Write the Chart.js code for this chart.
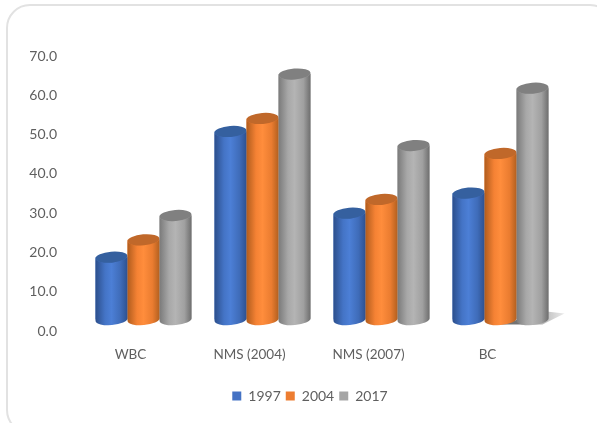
<!DOCTYPE html>
<html>
<head>
<meta charset="utf-8">
<style>
  html, body { margin: 0; padding: 0; background: #fff; overflow: hidden; }
  #frame { position: absolute; left: 6px; top: 4px; width: 608px; height: 430px; border: 2px solid #e2e2e2; border-radius: 24px; box-sizing: border-box; }
  #chart { position: absolute; left: 0; top: 0; }
</style>
<script src="https://cdn.jsdelivr.net/npm/chart.js@4"></script>
</head>
<body>
<div id="frame"></div>
<canvas id="chart" width="597" height="423"></canvas>
<script>
const categories = ["WBC", "NMS (2004)", "NMS (2007)", "BC"];
const seriesNames = ["1997", "2004", "2017"];
const values1997 = [18.8, 50.8, 30.0, 35.1];
const values2004 = [23.2, 54.1, 33.5, 45.2];
const values2017 = [29.4, 65.4, 47.2, 61.8];

const flatColors = ["#4472c4", "#ed7d31", "#a5a5a5"];
const capColors = ["#35609f", "#c0682a", "#808080"];
const sideStops = [
  ["#2c4f8c", "#4474c6", "#4c7fd6", "#3f6cb9", "#2d5190"],
  ["#b05c1d", "#f58234", "#ff8d3c", "#ea7c30", "#b3601f"],
  ["#7a7a7a", "#a8a8a8", "#b4b4b4", "#a0a0a0", "#6e6e6e"]
];

// bars stand on this level, the picture has the floor a bit above the 0.0 label
const floorValue = 2.9;

// turns the flat bars into tilted cylinders
const cylinders = {
  id: "cylinders",
  // legend sits right of the canvas centre in the picture
  afterLayout(chart) {
    chart.legend.left += 30;
    chart.legend.right += 30;
  },
  afterDatasetsDraw(chart) {
    const ctx = chart.ctx;
    const tilt = -0.08;

    // shadow behind the last bar only
    const lastBar = chart.getDatasetMeta(2).data[3];
    const shadow = ctx.createLinearGradient(lastBar.x - 10, 0, lastBar.x + 32, 0);
    shadow.addColorStop(0, "rgba(80,80,80,0.8)");
    shadow.addColorStop(1, "rgba(150,150,150,0.2)");
    ctx.fillStyle = shadow;
    ctx.beginPath();
    ctx.moveTo(lastBar.x - 32, lastBar.base + 5);
    ctx.lineTo(lastBar.x + 10, lastBar.base + 5);
    ctx.lineTo(lastBar.x + 32, lastBar.base - 6);
    ctx.lineTo(lastBar.x + 14, lastBar.base - 8);
    ctx.closePath();
    ctx.fill();

    chart.data.datasets.forEach((ds, i) => {
      chart.getDatasetMeta(i).data.forEach(bar => {
        const rx = bar.width / 2;
        const ry = 5.5;
        const grad = ctx.createLinearGradient(bar.x - rx, 0, bar.x + rx, 0);
        [0, 0.3, 0.5, 0.78, 1].forEach((p, k) => grad.addColorStop(p, sideStops[i][k]));

        ctx.fillStyle = grad;
        ctx.beginPath();
        ctx.ellipse(bar.x, bar.y, rx, ry, tilt, Math.PI, 0, true);
        ctx.ellipse(bar.x, bar.base, rx, ry, tilt, 0, Math.PI, false);
        ctx.closePath();
        ctx.fill();

        ctx.fillStyle = capColors[i];
        ctx.beginPath();
        ctx.ellipse(bar.x, bar.y, rx, ry, tilt, 0, Math.PI * 2);
        ctx.fill();
      });
    });
  }
};

new Chart(document.getElementById("chart"), {
  type: "bar",
  data: {
    labels: categories,
    datasets: [
      { label: seriesNames[0], data: values1997, backgroundColor: flatColors[0], base: floorValue },
      { label: seriesNames[1], data: values2004, backgroundColor: flatColors[1], base: floorValue },
      { label: seriesNames[2], data: values2017, backgroundColor: flatColors[2], base: floorValue }
    ]
  },
  plugins: [cylinders],
  options: {
    responsive: false,
    animation: false,
    layout: { padding: { top: 56, right: 37, bottom: 10, left: 0 } },
    datasets: { bar: { barPercentage: 1, categoryPercentage: 0.807 } },
    plugins: {
      tooltip: { enabled: false },
      legend: {
        position: "bottom",
        labels: {
          boxWidth: 9,
          boxHeight: 9,
          padding: 5,
          color: "#5f5f5f",
          font: { family: "Lato", size: 14 }
        }
      }
    },
    scales: {
      x: {
        grid: { display: false, drawTicks: false },
        border: { display: false },
        afterFit(scale) { scale.height = 53; },
        ticks: {
          color: "#5f5f5f",
          padding: 16,
          labelOffset: -13,
          maxRotation: 0,
          font: { family: "Lato", size: 13.5 }
        }
      },
      y: {
        min: 0,
        max: 70,
        grid: { display: false, drawTicks: false },
        border: { display: false },
        afterFit(scale) { scale.width = 84; },
        ticks: {
          stepSize: 10,
          color: "#5f5f5f",
          padding: 27,
          font: { family: "Lato", size: 14 },
          callback: v => v.toFixed(1)
        }
      }
    }
  }
});
</script>
</body>
</html>
